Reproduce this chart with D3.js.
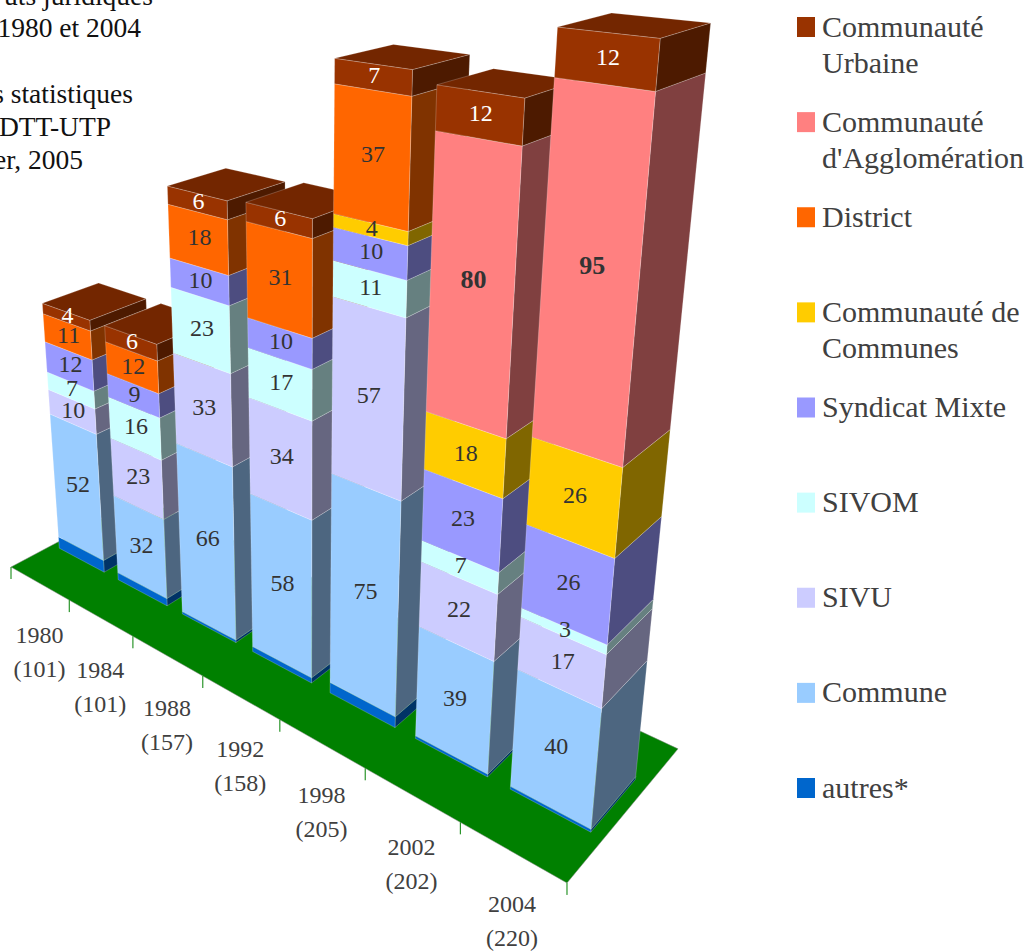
<!DOCTYPE html>
<html>
<head>
<meta charset="utf-8">
<script src="https://cdn.jsdelivr.net/npm/d3@7/dist/d3.min.js"></script>
<style>
html,body{margin:0;padding:0;background:#fff;overflow:hidden}
svg{display:block}
text{font-family:"Liberation Serif",serif}
</style>
</head>
<body>
<svg id="chart" width="1032" height="951"></svg>
<script>
// ---- data ----
const years = ["1980","1984","1988","1992","1998","2002","2004"];
const totals = ["(101)","(101)","(157)","(158)","(205)","(202)","(220)"];
const autres = [5,3,1,2,4,1,1];
const commune = [52,32,66,58,75,39,40];
const sivu = [10,23,33,34,57,22,17];
const sivom = [7,16,23,17,11,7,3];
const syndicatMixte = [12,9,10,10,10,23,26];
const communauteCommunes = [0,0,0,0,4,18,26];
const district = [11,12,18,31,37,0,0];
const communauteAgglo = [0,0,0,0,0,80,95];
const communauteUrbaine = [4,6,6,6,7,12,12];
const seriesKeys = ["autres","commune","sivu","sivom","syndicatMixte","communauteCommunes","district","communauteAgglo","communauteUrbaine"];
const seriesValues = [autres,commune,sivu,sivom,syndicatMixte,communauteCommunes,district,communauteAgglo,communauteUrbaine];
const seriesColors = ["#0066cc","#99ccff","#ccccff","#ccffff","#9999ff","#ffcc00","#ff6600","#ff8080","#993300"];
const legendLabels = [["Communauté","Urbaine"],["Communauté","d'Agglomération"],["District"],["Communauté de","Communes"],["Syndicat Mixte"],["SIVOM"],["SIVU"],["Commune"],["autres*"]];
const legendColors = ["#993300","#ff8080","#ff6600","#ffcc00","#9999ff","#ccffff","#ccccff","#99ccff","#0066cc"];
const noteLines = [["uts juridiques",153,5],["1980 et 2004",141,37],["s statistiques",133,103],["DTT-UTP",111,136],["er, 2005",83,169]];

// ---- perspective camera: origin and the three vanishing points ----
const O = [11,567], Vu = [-1300,-178], Vv = [1473,-211], Vh = [305,4100];
const Lu = -0.2978, Lv = 0.0981;
const u = d3.scaleBand().domain(years).range([0,1]).paddingInner(0.23).paddingOuter(0.115);
const uTick = d3.scaleLinear().domain([0,years.length]).range([0,1]);
const h = d3.scaleLinear().domain([0,220]).range([0,-0.14395]);
const vFront = 0.3, vBack = 0.7;
function project(a,b,val){
  const t = h(val), pu = Lu*a, pv = Lv*b;
  const w = 1+pu+pv+t;
  return [(O[0]+pu*Vu[0]+pv*Vv[0]+t*Vh[0])/w,(O[1]+pu*Vu[1]+pv*Vv[1]+t*Vh[1])/w];
}
const poly = pts => pts.map(p=>p.map(n=>n.toFixed(2)).join(",")).join(" ");
const shade = (c,k) => { const r=d3.rgb(c); return d3.rgb(r.r*k,r.g*k,r.b*k).formatHex(); };

const svg = d3.select("#chart");
const table = years.map((y,i)=>{const o={year:y}; seriesKeys.forEach((k,s)=>o[k]=seriesValues[s][i]); return o;});
const stacked = d3.stack().keys(seriesKeys)(table);

// floor
svg.append("polygon").attr("points",poly([project(0,0,0),project(1,0,0),project(1,1,0),project(0,1,0)]))
  .attr("fill","#008000").attr("stroke","#8a8a8a").attr("stroke-width",0.5);

// ticks
svg.append("g").selectAll("line").data(d3.range(years.length+1)).join("line")
  .attr("x1",k=>project(uTick(k),0,0)[0]).attr("x2",k=>project(uTick(k),0,0)[0])
  .attr("y1",k=>project(uTick(k),0,0)[1]).attr("y2",k=>project(uTick(k),0,0)[1]+12)
  .attr("stroke","#008000").attr("stroke-width",1);

// bars, left to right so nearer bars cover farther ones
const edge = {stroke:"#ffffff","stroke-opacity":0.35,"stroke-width":0.6};
const addPoly = (g,pts,fill)=>{ const p=g.append("polygon").attr("points",poly(pts)).attr("fill",fill); Object.entries(edge).forEach(([k,v])=>p.attr(k,v)); };
years.forEach((y,i)=>{
  const g = svg.append("g").attr("class","bar");
  const a = u(y), b = a+u.bandwidth();
  stacked.forEach((layer,s)=>{
    const lo = layer[i][0], hi = layer[i][1];
    if(hi<=lo) return;
    const c = seriesColors[s];
    addPoly(g,[project(b,vFront,lo),project(b,vBack,lo),project(b,vBack,hi),project(b,vFront,hi)],shade(c,0.5));
    addPoly(g,[project(a,vFront,lo),project(b,vFront,lo),project(b,vFront,hi),project(a,vFront,hi)],c);
  });
  const topVal = stacked[stacked.length-1][i][1];
  addPoly(g,[project(a,vFront,topVal),project(b,vFront,topVal),project(b,vBack,topVal),project(a,vBack,topVal)],shade(seriesColors[seriesColors.length-1],0.75));
});

// value labels, centred on the drawn front face
const labelsG = svg.append("g");
years.forEach((y,i)=>{
  const a = u(y), b = a+u.bandwidth();
  stacked.forEach((layer,s)=>{
    const lo = layer[i][0], hi = layer[i][1], val = hi-lo;
    if(val<=0 || seriesKeys[s]==="autres") return;
    const corners = [project(a,vFront,lo),project(b,vFront,lo),project(b,vFront,hi),project(a,vFront,hi)];
    const bold = seriesKeys[s]==="communauteAgglo";
    labelsG.append("text")
      .attr("x",d3.mean(corners,c=>c[0])+1).attr("y",d3.mean(corners,c=>c[1])+6).attr("text-anchor","middle")
      .attr("font-size",bold?26:24)
      .attr("font-weight",bold?"bold":"normal")
      .attr("fill",seriesKeys[s]==="communauteUrbaine"?"#ffffff":"#333333")
      .text(val);
  });
});

// category labels
const cat = svg.append("g").attr("font-size",24).attr("fill","#404040").attr("text-anchor","middle");
years.forEach((y,i)=>{
  const p = project(u(y)+u.bandwidth()/2,0,0);
  cat.append("text").attr("x",p[0]).attr("y",p[1]+60).text(y);
  cat.append("text").attr("x",p[0]).attr("y",p[1]+94).text(totals[i]);
});

// legend
const legendY = d3.scaleLinear().domain([0,legendLabels.length-1]).range([17,778]);
const lg = svg.append("g");
legendLabels.forEach((lines,i)=>{
  const y = legendY(i);
  lg.append("rect").attr("x",797).attr("y",y).attr("width",18).attr("height",20).attr("fill",legendColors[i]);
  lines.forEach((line,j)=>{
    lg.append("text").attr("x",822).attr("y",y+19.5+36*j).attr("font-size",30).attr("fill","#404040").text(line);
  });
});

// note in the upper left corner
svg.append("g").selectAll("text").data(noteLines).join("text")
  .attr("x",d=>d[1]).attr("y",d=>d[2]).attr("text-anchor","end").attr("font-size",27.5).attr("fill","#111111").text(d=>d[0]);
</script>
</body>
</html>
